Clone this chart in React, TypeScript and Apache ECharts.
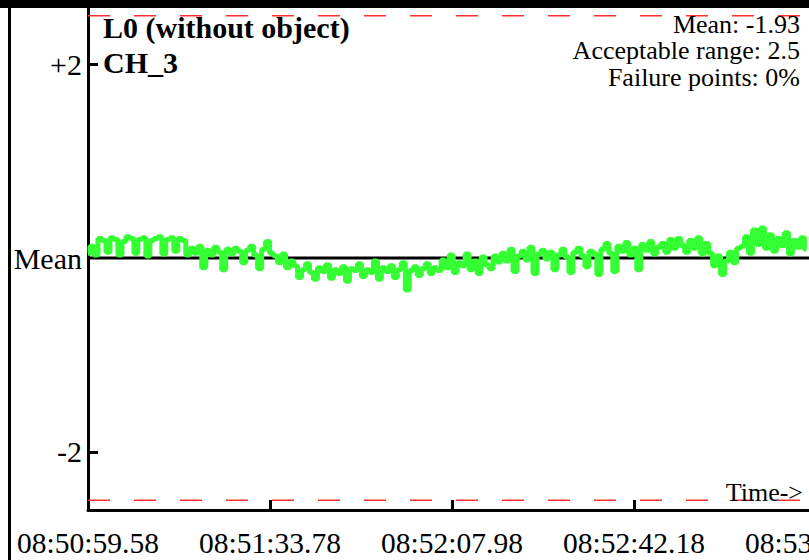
import React, { useEffect, useRef } from "react";
import * as echarts from "echarts";

// Chart texts
const titleLines = ["L0 (without object)", "CH_3"];
const infoLines = ["Mean: -1.93", "Acceptable range: 2.5", "Failure points: 0%"];
const timeAxisName = "Time->";

// Time axis (seconds from start) and start clock time
const startClock = { h: 8, m: 50, s: 59.58 };
const tickStep = 34.2;
const xMax = 171;
const sampleStep = 0.75;

// Y axis: deviation from mean
const yLabelValues = [-2, 0, 2];
const yTickValues = [-2, 2];
const limitValues = [2.5, -2.5];
const meanValue = 0;

// Deviation from mean, one sample every 0.75 s
const deviation = [
  0.05, 0.12, 0.03,
  0.20, 0.18, 0.06, 0.21, 0.19, 0.03, 0.17, 0.22, 0.20, 0.05,
  0.19, 0.21, 0.02, 0.18, 0.20, 0.22, 0.04, 0.19, 0.21, 0.07,
  0.20, 0.18, 0.03,
  0.10, 0.05, 0.12, -0.10, 0.08, 0.03, 0.11, 0.06, -0.12, 0.09,
  0.04, 0.10, 0.07, -0.05, 0.08, 0.12, 0.03, -0.11, 0.09, 0.17, 0.05,
  0.02, -0.05, 0.04, -0.10, -0.03,
  -0.08, -0.20, -0.12, -0.06, -0.15, -0.22, -0.10, -0.14, -0.07, -0.21,
  -0.12, -0.16, -0.09, -0.24, -0.11, -0.13, -0.06, -0.19, -0.12, -0.15,
  -0.03, -0.22, -0.10, -0.14, -0.08, -0.20, -0.12, -0.05, -0.33, -0.13,
  -0.09, -0.18, -0.11, -0.06, -0.16, -0.10, -0.13,
  -0.02, -0.10, 0.03, -0.15, -0.05, -0.08, 0.04, -0.12, -0.03, -0.16,
  0.01, -0.07, -0.11, 0.02, -0.04,
  0.05, -0.03, 0.09, -0.14, 0.02, 0.07, -0.02, 0.11, -0.16, 0.04,
  0.08, -0.01, 0.06, -0.12, 0.03, 0.09, 0.01, -0.15, 0.06, 0.10,
  0.02, -0.09, 0.07, 0.04, -0.17,
  0.09, 0.15, 0.05, -0.14, 0.12, 0.07, 0.16, 0.03, 0.10, -0.12,
  0.14, 0.08, 0.17, 0.04, 0.11, 0.15, 0.06, 0.19, 0.10,
  0.20, 0.13, 0.06, 0.18, 0.10, 0.21, 0.04, 0.15,
  0.05, -0.08, 0.02, -0.17, -0.03, 0.06, -0.05, 0.10,
  0.12, 0.22, 0.05, 0.29, 0.14, 0.31, 0.10, 0.24, 0.07, 0.20,
  0.13, 0.26, 0.04, 0.18, 0.11, 0.21, 0.09,
];

const FONT = "'Liberation Serif', 'Times New Roman', serif";

function formatClock(v: number): string {
  const start = startClock.h * 3600 + startClock.m * 60 + startClock.s;
  const total = Math.round((start + v) * 100) / 100;
  const h = Math.floor(total / 3600);
  const m = Math.floor((total - h * 3600) / 60);
  const s = total - h * 3600 - m * 60;
  const ss = s.toFixed(2).padStart(5, "0");
  return `${String(h).padStart(2, "0")}:${String(m).padStart(2, "0")}:${ss}`;
}

export default function App() {
  const ref = useRef<HTMLDivElement>(null);
  useEffect(() => {
    if (!ref.current) return;
    const chart = echarts.init(ref.current, null, { renderer: "svg" });
    const data = deviation.map((v, i) => [i * sampleStep, v]);
    const option: any = {
      animation: false,
      backgroundColor: "#ffffff",
      grid: { left: 88, width: 910, top: 6, bottom: 50, containLabel: false, outerBoundsMode: "none" },
      xAxis: {
        type: "value",
        min: 0,
        max: xMax,
        interval: tickStep,
        axisLine: { show: true, onZero: false, lineStyle: { color: "#000", width: 3 } },
        axisTick: { show: true, inside: true, length: 10, lineStyle: { color: "#000", width: 3 } },
        splitLine: { show: false },
        axisLabel: {
          show: true,
          formatter: (v: number) => formatClock(v),
          fontFamily: FONT,
          fontSize: 29.5,
          color: "#000",
          margin: 33,
          verticalAlign: "middle",
          showMinLabel: true,
          showMaxLabel: true,
          hideOverlap: false,
        },
      },
      yAxis: {
        type: "value",
        min: -2.6,
        max: 2.6,
        axisLine: { show: true, onZero: false, lineStyle: { color: "#000", width: 3 } },
        axisTick: {
          show: true,
          inside: true,
          length: 10,
          customValues: yTickValues,
          lineStyle: { color: "#000", width: 3 },
        },
        splitLine: { show: false },
        axisLabel: {
          show: true,
          customValues: yLabelValues,
          formatter: (v: number) => (v === 0 ? "Mean" : v > 0 ? `+${v}` : `${v}`),
          fontFamily: FONT,
          fontSize: 30,
          color: "#000",
          margin: 6,
        },
      },
      series: [
        ...limitValues.map((lv) => ({
          type: "line",
          data: [[0, lv], [xMax, lv]],
          symbol: "none",
          silent: true,
          z: 1,
          lineStyle: { color: "#ff3030", width: 1.5, type: [22, 24] },
        })),
        {
          type: "line",
          data: [[0, meanValue], [xMax, meanValue]],
          symbol: "none",
          silent: true,
          z: 2,
          lineStyle: { color: "#000", width: 3 },
        },
        {
          type: "line",
          data,
          symbol: "none",
          step: "middle",
          silent: true,
          z: 3,
          lineStyle: { color: "#33ff33", width: 5 },
        },
      ],
      graphic: [
        { type: "rect", shape: { x: 0, y: 0, width: 809, height: 8 }, style: { fill: "#000" }, z: 100 },
        { type: "rect", shape: { x: 8, y: 0, width: 3, height: 560 }, style: { fill: "#000" }, z: 100 },
        ...titleLines.map((t, i) => ({
          type: "text",
          x: 103,
          y: i === 0 ? 27 : 62,
          z: 100,
          style: {
            text: t,
            fontFamily: FONT,
            fontSize: 30,
            fontWeight: "bold",
            fill: "#000",
            align: "left",
            verticalAlign: "middle",
          },
        })),
        ...infoLines.map((t, i) => ({
          type: "text",
          x: 800,
          y: 24 + i * 26.5,
          z: 100,
          style: {
            text: t,
            fontFamily: FONT,
            fontSize: 26,
            fill: "#000",
            align: "right",
            verticalAlign: "middle",
          },
        })),
        {
          type: "text",
          x: 803,
          y: 492,
          z: 100,
          style: {
            text: timeAxisName,
            fontFamily: FONT,
            fontSize: 26,
            fill: "#000",
            align: "right",
            verticalAlign: "middle",
          },
        },
      ],
    };
    chart.setOption(option);
    return () => chart.dispose();
  }, []);
  return (
    <div
      ref={ref}
      style={{ position: "absolute", left: 0, top: 0, width: 809, height: 560, background: "#fff" }}
    />
  );
}
